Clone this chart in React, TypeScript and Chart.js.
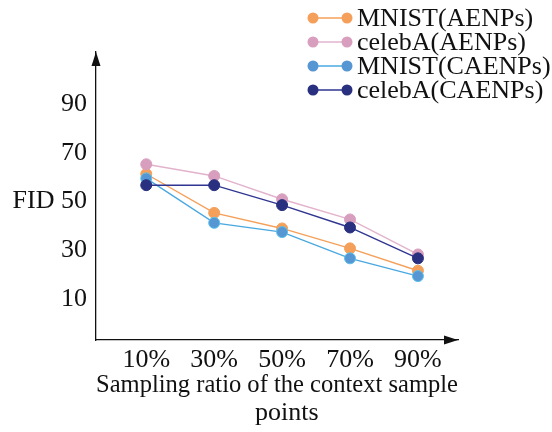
import React, { useEffect, useRef } from "react";
import { Chart, registerables } from "chart.js";

Chart.register(...registerables);

const ratios = [10, 30, 50, 70, 90];
const yTicks = [10, 30, 50, 70, 90];
const mnistAENPs = [61.3, 45.3, 38.9, 30.7, 21.5];
const celebaAENPs = [65.3, 60.5, 50.9, 42.6, 28.2];
const mnistCAENPs = [59.5, 41.2, 37.4, 26.6, 19.3];
const celebaCAENPs = [56.7, 56.7, 48.5, 39.3, 26.6];
const seriesLabels = ["MNIST(AENPs)", "celebA(AENPs)", "MNIST(CAENPs)", "celebA(CAENPs)"];
const xTitle = ["Sampling ratio of the context sample", "\u00A0\u00A0\u00A0points"];

const FONT = "'Liberation Serif', 'Times New Roman', serif";
const FS = 26;

const styles = [
  { point: "#F5A05A", border: "#F5A05A", line: "#F5A05A", order: 4 },
  { point: "#D89EBE", border: "#D89EBE", line: "#E2B3CC", order: 3 },
  { point: "#5596D3", border: "#5BC0EC", line: "#4AA8E0", order: 2 },
  { point: "#29307F", border: "#29307F", line: "#2F3590", order: 1 },
];

const arrowPlugin = {
  id: "arrows",
  afterDraw(chart: any) {
    const { ctx, chartArea } = chart;
    const { left, right, top, bottom } = chartArea;
    ctx.save();
    ctx.fillStyle = "#111";
    ctx.beginPath();
    ctx.moveTo(left, top);
    ctx.lineTo(left - 4.5, top + 14);
    ctx.lineTo(left + 4.5, top + 14);
    ctx.closePath();
    ctx.fill();
    ctx.beginPath();
    ctx.moveTo(right, bottom);
    ctx.lineTo(right - 14, bottom - 4.5);
    ctx.lineTo(right - 14, bottom + 4.5);
    ctx.closePath();
    ctx.fill();
    ctx.restore();
  },
};

const legendPlugin = {
  id: "customLegend",
  afterDraw(chart: any) {
    const { ctx } = chart;
    const rowsY = [18, 42, 66, 90];
    ctx.save();
    chart.data.datasets.forEach((ds: any, i: number) => {
      const st = styles[i];
      const y = rowsY[i];
      ctx.strokeStyle = st.line;
      ctx.lineWidth = 1.5;
      ctx.beginPath();
      ctx.moveTo(313, y);
      ctx.lineTo(347, y);
      ctx.stroke();
      [313, 347].forEach((x) => {
        ctx.beginPath();
        ctx.arc(x, y, 5.5, 0, Math.PI * 2);
        ctx.fillStyle = st.point;
        ctx.fill();
      });
      ctx.fillStyle = "#111";
      ctx.font = `${FS}px ${FONT}`;
      ctx.textBaseline = "middle";
      ctx.textAlign = "left";
      ctx.fillText(ds.label, 357, y + 1);
    });
    ctx.restore();
  },
};

export default function App() {
  const ref = useRef<HTMLCanvasElement>(null);
  useEffect(() => {
    if (!ref.current) return;
    const all = [mnistAENPs, celebaAENPs, mnistCAENPs, celebaCAENPs];
    const chart = new Chart(ref.current, {
      type: "line",
      data: {
        datasets: all.map((vals, i) => ({
          label: seriesLabels[i],
          data: vals.map((v, j) => ({ x: ratios[j], y: v })),
          borderColor: styles[i].line,
          backgroundColor: styles[i].point,
          pointBackgroundColor: styles[i].point,
          pointBorderColor: styles[i].border,
          pointBorderWidth: 1,
          pointRadius: 5.5,
          borderWidth: 1.4,
          tension: 0,
          order: styles[i].order,
        })),
      },
      options: {
        responsive: false,
        animation: false,
        layout: { padding: { top: 52, right: 94, left: 0, bottom: 0 } },
        plugins: { legend: { display: false }, tooltip: { enabled: false } },
        scales: {
          x: {
            type: "linear",
            min: -4.8,
            max: 101.8,
            afterFit: (s: any) => { s.height = 92; },
            afterBuildTicks: (s: any) => { s.ticks = ratios.map((v) => ({ value: v })); },
            grid: { display: false, drawTicks: false },
            border: { display: true, color: "#111", width: 1.3 },
            ticks: {
              padding: 5,
              color: "#111",
              font: { family: FONT, size: FS },
              callback: (v: any) => `${v}%`,
              maxRotation: 0,
              autoSkip: false,
            },
            title: {
              display: true,
              text: xTitle,
              color: "#111",
              font: { family: FONT, size: FS, lineHeight: 28 / FS },
              padding: { top: 0, bottom: 5 },
            },
          },
          y: {
            type: "linear",
            min: -7,
            max: 111.5,
            afterFit: (s: any) => { s.width = 96; },
            afterBuildTicks: (s: any) => { s.ticks = yTicks.map((v) => ({ value: v })); },
            grid: { display: false, drawTicks: false },
            border: { display: true, color: "#111", width: 1.3 },
            ticks: {
              padding: 9,
              color: "#111",
              font: { family: FONT, size: FS },
              callback: (v: any) => (v === 50 ? `FID ${v}` : `${v}`),
            },
          },
        },
      },
      plugins: [arrowPlugin, legendPlugin],
    });
    return () => chart.destroy();
  }, []);
  return (
    <div style={{ position: "absolute", left: 0, top: 0, width: 552, height: 432, background: "#fff" }}>
      <canvas ref={ref} width={552} height={432} style={{ display: "block" }} />
    </div>
  );
}
